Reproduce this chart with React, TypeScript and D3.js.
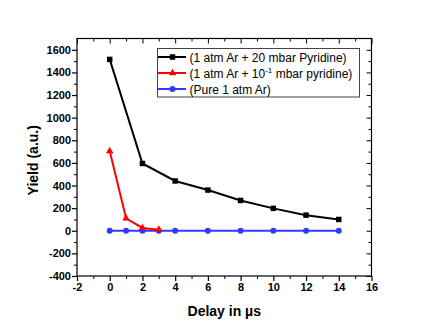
import React, { useEffect, useRef } from 'react';
import * as d3 from 'd3';

const delayBlack = [0, 2, 4, 6, 8, 10, 12, 14];
const yieldBlack = [1515, 595, 440, 360, 268, 198, 138, 100];
const delayRed = [0, 1, 2, 3];
const yieldRed = [705, 110, 25, 10];
const delayBlue = [0, 1, 2, 3, 4, 6, 8, 10, 12, 14];
const yieldBlue = [0, 0, 0, 0, 0, 0, 0, 0, 0, 0];
const xTicks = [-2, 0, 2, 4, 6, 8, 10, 12, 14, 16];
const yTicks = [-400, -200, 0, 200, 400, 600, 800, 1000, 1200, 1400, 1600];
const legendLabels = ['(1 atm Ar + 20 mbar Pyridine)', '(1 atm Ar + 10-1 mbar pyridine)', '(Pure 1 atm Ar)'];

const App = () => {
  const ref = useRef<SVGSVGElement>(null);

  useEffect(() => {
    const svg = d3.select(ref.current);
    svg.selectAll('*').remove();

    const left = 77, right = 371.5, top = 38.5, bottom = 276;
    const x = d3.scaleLinear().domain([-2, 16]).range([left, right]);
    const y = d3.scaleLinear().domain([-400, 1700]).range([bottom, top]);
    const font = 'Liberation Sans, Arial, sans-serif';
    const fmt = (d: any) => String(d); // plain hyphen for negatives

    // frame
    svg.append('rect')
      .attr('x', left).attr('y', top)
      .attr('width', right - left).attr('height', bottom - top)
      .attr('fill', 'none').attr('stroke', '#000').attr('stroke-width', 1.2);

    const xMinor = d3.range(-1, 16, 2);
    const yMinor = d3.range(-300, 1700, 200);

    // bottom axis
    const gx = svg.append('g').attr('transform', `translate(0,${bottom})`)
      .call(d3.axisBottom(x).tickValues(xTicks).tickSize(5).tickFormat(fmt));
    gx.select('.domain').remove();
    gx.selectAll('text').attr('font-family', font).attr('font-weight', 'bold').attr('font-size', 11).attr('dy', '0.9em').attr('y', 5);
    gx.selectAll('line').attr('stroke-width', 1.2);
    svg.append('g').attr('transform', `translate(0,${bottom})`)
      .call(d3.axisBottom(x).tickValues(xMinor).tickSize(3).tickFormat(() => ''))
      .call(g => g.select('.domain').remove());

    // left axis
    const gy = svg.append('g').attr('transform', `translate(${left},0)`)
      .call(d3.axisLeft(y).tickValues(yTicks).tickSize(5).tickFormat(fmt));
    gy.select('.domain').remove();
    gy.selectAll('text').attr('font-family', font).attr('font-weight', 'bold').attr('font-size', 11).attr('x', -6);
    gy.selectAll('line').attr('stroke-width', 1.2);
    svg.append('g').attr('transform', `translate(${left},0)`)
      .call(d3.axisLeft(y).tickValues(yMinor).tickSize(3).tickFormat(() => ''))
      .call(g => g.select('.domain').remove());

    // top and right mirrored ticks, inward
    svg.append('g').attr('transform', `translate(0,${top})`)
      .call(d3.axisBottom(x).tickValues(xTicks).tickSize(5).tickFormat(() => ''))
      .call(g => g.select('.domain').remove());
    svg.append('g').attr('transform', `translate(0,${top})`)
      .call(d3.axisBottom(x).tickValues(xMinor).tickSize(3).tickFormat(() => ''))
      .call(g => g.select('.domain').remove());
    svg.append('g').attr('transform', `translate(${right},0)`)
      .call(d3.axisLeft(y).tickValues(yTicks).tickSize(5).tickFormat(() => ''))
      .call(g => g.select('.domain').remove());
    svg.append('g').attr('transform', `translate(${right},0)`)
      .call(d3.axisLeft(y).tickValues(yMinor).tickSize(3).tickFormat(() => ''))
      .call(g => g.select('.domain').remove());

    // axis titles
    svg.append('text')
      .attr('x', (left + right) / 2).attr('y', 316)
      .attr('text-anchor', 'middle')
      .attr('font-family', font).attr('font-weight', 'bold').attr('font-size', 14)
      .text('Delay in µs');
    svg.append('text')
      .attr('transform', `translate(38,${(top + bottom) / 2 + 3}) rotate(-90)`)
      .attr('text-anchor', 'middle')
      .attr('font-family', font).attr('font-weight', 'bold').attr('font-size', 14)
      .text('Yield (a.u.)');

    const line = d3.line<[number, number]>().x(d => x(d[0])).y(d => y(d[1]));
    const square = d3.symbol().type(d3.symbolSquare).size(30);
    const tri = d3.symbol().type(d3.symbolTriangle).size(24);
    const circ = d3.symbol().type(d3.symbolCircle).size(28);

    const series = [
      { xs: delayBlue, ys: yieldBlue, color: '#2d3cff', sym: circ },
      { xs: delayRed, ys: yieldRed, color: '#ff0000', sym: tri },
      { xs: delayBlack, ys: yieldBlack, color: '#000000', sym: square },
    ];

    series.forEach(s => {
      const pts = s.xs.map((v, i) => [v, s.ys[i]] as [number, number]);
      svg.append('path').datum(pts)
        .attr('fill', 'none').attr('stroke', s.color).attr('stroke-width', 2)
        .attr('d', line);
      svg.append('g').selectAll('path').data(pts).join('path')
        .attr('transform', d => `translate(${x(d[0])},${y(d[1])})`)
        .attr('d', s.sym()).attr('fill', s.color);
    });

    // legend
    const lg = svg.append('g');
    lg.append('rect')
      .attr('x', 157.5).attr('y', 48.5).attr('width', 202).attr('height', 48.5)
      .attr('fill', '#fff').attr('stroke', '#444').attr('stroke-width', 1);
    const legendItems = [
      { color: '#000000', sym: square },
      { color: '#ff0000', sym: tri },
      { color: '#2d3cff', sym: circ },
    ];
    legendItems.forEach((it, i) => {
      const ly = 57 + i * 16;
      lg.append('line').attr('x1', 158).attr('x2', 186).attr('y1', ly).attr('y2', ly)
        .attr('stroke', it.color).attr('stroke-width', 2);
      lg.append('path').attr('transform', `translate(172.5,${ly})`).attr('d', it.sym()).attr('fill', it.color);
      const t = lg.append('text').attr('x', 189.5).attr('y', ly + 4.5)
        .attr('font-family', font).attr('font-size', 12);
      if (i === 1) {
        t.append('tspan').text('(1 atm Ar + 10');
        t.append('tspan').attr('font-size', 8).attr('dy', -5).text('-1');
        t.append('tspan').attr('dy', 5).text(' mbar pyridine)');
      } else {
        t.text(legendLabels[i]);
      }
    });
  }, []);

  return (
    <div>
      <svg ref={ref} width={429} height={329} style={{ position: 'absolute', left: 0, top: 0, background: '#fff' }}></svg>
    </div>
  );
};

export default App;
